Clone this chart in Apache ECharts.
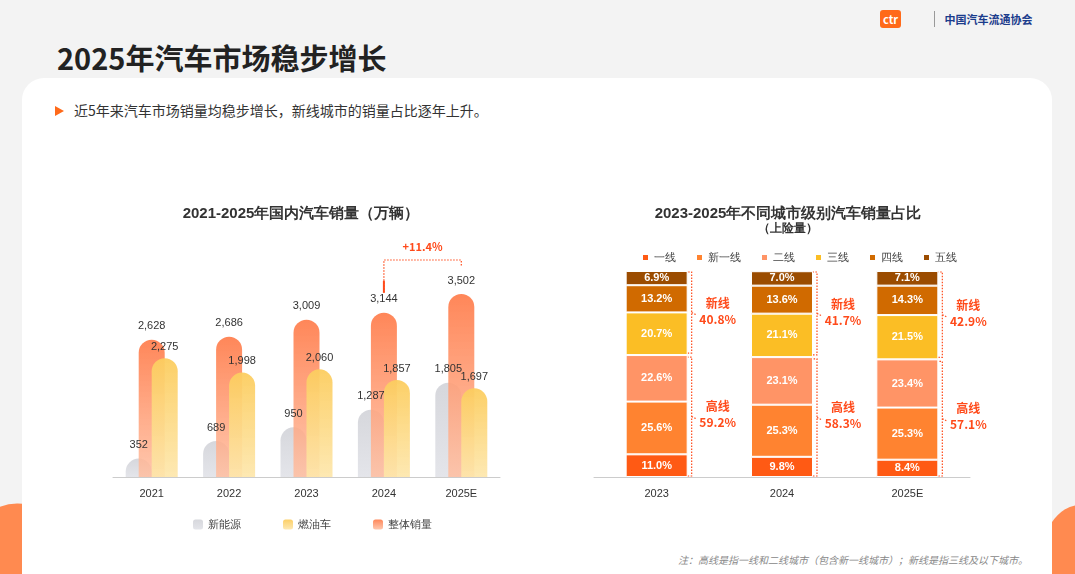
<!DOCTYPE html>
<html><head><meta charset="utf-8">
<script src="https://cdn.jsdelivr.net/npm/echarts@6/dist/echarts.min.js"></script>
<style>
body{margin:0;width:1075px;height:574px;overflow:hidden;background:#f3f3f3;font-family:"Noto Sans CJK SC","Noto Sans",sans-serif;position:relative}
.card{position:absolute;left:22px;top:78px;width:1030px;height:520px;background:#fff;border-radius:22px}
.blob1{position:absolute;left:-40px;top:500px;width:90px;height:120px;background:#ff8a50;border-radius:50%;transform:rotate(30deg)}
.blob2{position:absolute;left:1040px;top:505px;width:80px;height:120px;background:#ff8a50;border-radius:50%}
.title{position:absolute;left:57px;top:36px;font-size:29px;font-weight:bold;color:#222}
.bullet{position:absolute;left:55px;top:100px;font-size:14px;color:#333}
.bullet b{display:inline-block;width:0;height:0;border-left:9px solid #ff6a1a;border-top:5px solid transparent;border-bottom:5px solid transparent;margin-right:10px}
.note{position:absolute;left:678px;top:552px;font-size:10px;color:#888;font-style:italic}
.logo{position:absolute;left:880px;top:10px;font-size:11px;color:#555}
#c{position:absolute;left:0;top:0;width:1075px;height:574px}
</style></head><body>
<div class="blob1"></div><div class="blob2"></div>
<div class="card"></div>
<div class="title">2025年汽车市场稳步增长</div>
<div class="bullet"><b></b>近5年来汽车市场销量均稳步增长，新线城市的销量占比逐年上升。</div>
<div class="logo"><span style="display:inline-block;background:#ff6a1a;color:#fff;font-weight:bold;padding:1px 3px;border-radius:3px">ctr</span>
<span style="margin-left:30px;border-left:1px solid #999;padding-left:10px;color:#1b3c8c;font-weight:bold">中国汽车流通协会</span></div>
<div class="note">注：高线是指一线和二线城市（包含新一线城市）；新线是指三线及以下城市。</div>
<div id="c"></div>
<script>
const years = ['2021','2022','2023','2024','2025E'];
const nev = [352, 689, 950, 1287, 1805];
const ice = [2275, 1998, 2060, 1857, 1697];
const total = [2628, 2686, 3009, 3144, 3502];
const growthLabel = '+11.4%';

const tierYears = ['2023','2024','2025E'];
const tierNames = ['一线','新一线','二线','三线','四线','五线'];
const tierData = [
  [11.0, 9.8, 8.4],
  [25.6, 25.3, 25.3],
  [22.6, 23.1, 23.4],
  [20.7, 21.1, 21.5],
  [13.2, 13.6, 14.3],
  [6.9, 7.0, 7.1]
];
const highShare = [59.2, 58.3, 57.1];
const newShare = [40.8, 41.7, 42.9];
const tierColors = ['#ff5a14','#ff8330','#ff9466','#fbbe25','#d06a00','#9b4c00'];

const chart = echarts.init(document.getElementById('c'));
const fmt = v => v.value.toLocaleString('en-US');
function grad(a, b) {
  return new echarts.graphic.LinearGradient(0, 0, 0, 1, [{offset: 0, color: a}, {offset: 1, color: b}]);
}
const lbl = {show: true, position: 'top', formatter: fmt, fontSize: 11, color: '#333', distance: 8};
const series = [
  {name: '新能源', type: 'bar', data: nev, barWidth: 26, barGap: '-50%', label: lbl,
   itemStyle: {color: grad('#d6d7dc', '#e4e5ea'), borderRadius: [13,13,0,0]}},
  {name: '整体销量', type: 'bar', data: total, barWidth: 26, barGap: '-50%', label: lbl,
   itemStyle: {color: grad('rgba(255,128,80,0.95)', 'rgba(255,190,160,0.85)'), borderRadius: [13,13,0,0]}},
  {name: '燃油车', type: 'bar', data: ice, barWidth: 26, barGap: '-50%', label: Object.assign({}, lbl, {distance: 6}),
   itemStyle: {color: grad('rgba(252,205,95,0.95)', 'rgba(253,230,170,0.9)'), borderRadius: [13,13,0,0]}}
];
tierNames.forEach((n, i) => series.push({
  name: n, type: 'bar', stack: 's', xAxisIndex: 1, yAxisIndex: 1, data: tierData[i], barWidth: 62,
  itemStyle: {color: tierColors[i], borderColor: '#fff', borderWidth: 1},
  label: {show: true, formatter: p => p.value.toFixed(1) + '%', color: '#fff', fontSize: 11, fontWeight: 'bold'}
}));

chart.setOption({
  animation: false,
  title: [
    {text: '2021-2025年国内汽车销量（万辆）', left: 296, top: 201, textAlign: 'center',
     textStyle: {fontSize: 15, fontWeight: 'bold', color: '#333'}},
    {text: '2023-2025年不同城市级别汽车销量占比', subtext: '（上险量）', left: 783, top: 201, textAlign: 'center', itemGap: 2,
     textStyle: {fontSize: 15, fontWeight: 'bold', color: '#333'}, subtextStyle: {fontSize: 12, fontWeight: 'bold', color: '#333'}}
  ],
  legend: [
    {data: ['新能源','燃油车','整体销量'], left: 188, top: 514, itemGap: 42, itemWidth: 10, itemHeight: 10,
     textStyle: {fontSize: 11, color: '#444'}},
    {data: tierNames, left: 636, top: 247, itemGap: 19, itemWidth: 7, itemHeight: 7, icon: 'rect',
     textStyle: {fontSize: 11, color: '#444'}}
  ],
  grid: [
    {left: 113, right: 575, top: 268, bottom: 97},
    {left: 594, right: 105, top: 271, bottom: 97}
  ],
  xAxis: [
    {type: 'category', data: years, gridIndex: 0, axisTick: {show: false},
     axisLine: {lineStyle: {color: '#ccc'}}, axisLabel: {color: '#333', fontSize: 11, margin: 11}},
    {type: 'category', data: tierYears, gridIndex: 1, axisTick: {show: false},
     axisLine: {lineStyle: {color: '#ccc'}}, axisLabel: {color: '#333', fontSize: 11, margin: 11}}
  ],
  yAxis: [
    {type: 'value', gridIndex: 0, min: 0, max: 4000, show: false},
    {type: 'value', gridIndex: 1, min: 0, max: 100, show: false}
  ],
  series: series
});

// annotations positioned from the axes
const red = '#ff4a1a';
const g = [];
tierYears.forEach((y, i) => {
  const base = chart.convertToPixel({gridIndex: 1}, [i, 0]);
  const mid = chart.convertToPixel({gridIndex: 1}, [i, highShare[i]]);
  const top = chart.convertToPixel({gridIndex: 1}, [i, 100]);
  const x = base[0] + 35;
  [[base[1] - 1, mid[1] + 2], [mid[1] - 2, top[1] + 1]].forEach(([y1, y2]) => {
    const ym = (y1 + y2) / 2;
    g.push({type: 'polyline', shape: {points: [[x - 4, y1], [x, y1], [x, y2], [x - 4, y2]]},
      style: {stroke: red, lineWidth: 1.2, lineDash: [1.5, 1.5], fill: null}});
    g.push({type: 'polyline', shape: {points: [[x, ym], [x + 4, ym + 2]]},
      style: {stroke: red, lineWidth: 1.2, lineDash: [1.5, 1.5], fill: null}});
  });
  const yh = (base[1] + mid[1]) / 2, yn = (mid[1] + top[1]) / 2;
  g.push({type: 'text', x: x + 26, y: yh - 2, style: {text: '高线\n' + highShare[i].toFixed(1) + '%', fill: red,
    font: 'bold 12px "Noto Sans CJK SC"', align: 'center', verticalAlign: 'middle', lineHeight: 16}});
  g.push({type: 'text', x: x + 26, y: yn - 2, style: {text: '新线\n' + newShare[i].toFixed(1) + '%', fill: red,
    font: 'bold 12px "Noto Sans CJK SC"', align: 'center', verticalAlign: 'middle', lineHeight: 16}});
});
const p4 = chart.convertToPixel({gridIndex: 0}, [3, total[3]]);
const p5 = chart.convertToPixel({gridIndex: 0}, [4, total[4]]);
const yTop = p5[1] - 34;
g.push({type: 'polyline', shape: {points: [[p4[0], p4[1] - 20], [p4[0], yTop], [p5[0], yTop], [p5[0], yTop + 6]]},
  style: {stroke: red, lineWidth: 1.2, lineDash: [1.5, 1.5], fill: null}});
g.push({type: 'line', shape: {x1: p4[0], y1: p4[1] - 32, x2: p4[0], y2: p4[1] - 20}, style: {stroke: red, lineWidth: 2}});
g.push({type: 'text', x: (p4[0] + p5[0]) / 2, y: yTop - 13, style: {text: growthLabel, fill: red,
  font: 'bold 11px "Noto Sans CJK SC"', align: 'center', verticalAlign: 'middle'}});
chart.setOption({graphic: g});
</script>
</body></html>
